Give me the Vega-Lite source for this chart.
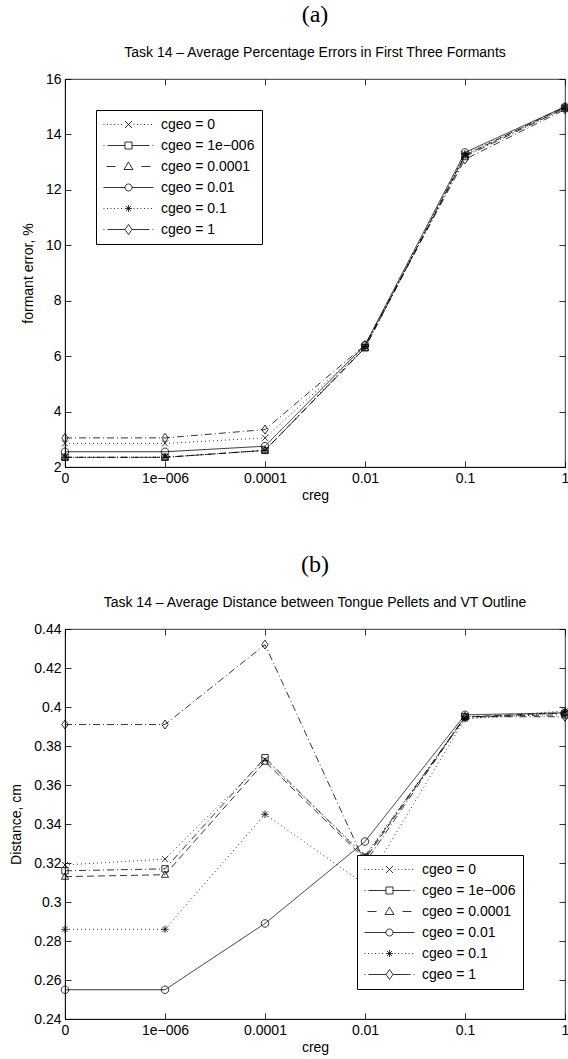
{
  "$schema": "https://vega.github.io/schema/vega-lite/v6.json",
  "background": "white",
  "padding": {"left": 9, "top": 2, "right": 0, "bottom": 2},
  "spacing": 49,
  "datasets": {
    "a": [
      {"creg": "0", "cgeo": "0", "value": 2.85}, {"creg": "1e−006", "cgeo": "0", "value": 2.85}, {"creg": "0.0001", "cgeo": "0", "value": 3.05}, {"creg": "0.01", "cgeo": "0", "value": 6.35}, {"creg": "0.1", "cgeo": "0", "value": 13.25}, {"creg": "1", "cgeo": "0", "value": 14.95},
      {"creg": "0", "cgeo": "1e−006", "value": 2.35}, {"creg": "1e−006", "cgeo": "1e−006", "value": 2.35}, {"creg": "0.0001", "cgeo": "1e−006", "value": 2.6}, {"creg": "0.01", "cgeo": "1e−006", "value": 6.3}, {"creg": "0.1", "cgeo": "1e−006", "value": 13.2}, {"creg": "1", "cgeo": "1e−006", "value": 14.95},
      {"creg": "0", "cgeo": "0.0001", "value": 2.35}, {"creg": "1e−006", "cgeo": "0.0001", "value": 2.35}, {"creg": "0.0001", "cgeo": "0.0001", "value": 2.6}, {"creg": "0.01", "cgeo": "0.0001", "value": 6.3}, {"creg": "0.1", "cgeo": "0.0001", "value": 13.25}, {"creg": "1", "cgeo": "0.0001", "value": 15.0},
      {"creg": "0", "cgeo": "0.01", "value": 2.55}, {"creg": "1e−006", "cgeo": "0.01", "value": 2.55}, {"creg": "0.0001", "cgeo": "0.01", "value": 2.75}, {"creg": "0.01", "cgeo": "0.01", "value": 6.4}, {"creg": "0.1", "cgeo": "0.01", "value": 13.35}, {"creg": "1", "cgeo": "0.01", "value": 15.0},
      {"creg": "0", "cgeo": "0.1", "value": 2.35}, {"creg": "1e−006", "cgeo": "0.1", "value": 2.35}, {"creg": "0.0001", "cgeo": "0.1", "value": 2.6}, {"creg": "0.01", "cgeo": "0.1", "value": 6.35}, {"creg": "0.1", "cgeo": "0.1", "value": 13.3}, {"creg": "1", "cgeo": "0.1", "value": 14.95},
      {"creg": "0", "cgeo": "1", "value": 3.05}, {"creg": "1e−006", "cgeo": "1", "value": 3.05}, {"creg": "0.0001", "cgeo": "1", "value": 3.35}, {"creg": "0.01", "cgeo": "1", "value": 6.4}, {"creg": "0.1", "cgeo": "1", "value": 13.1}, {"creg": "1", "cgeo": "1", "value": 14.9}
    ],
    "b": [
      {"creg": "0", "cgeo": "0", "value": 0.319}, {"creg": "1e−006", "cgeo": "0", "value": 0.322}, {"creg": "0.0001", "cgeo": "0", "value": 0.373}, {"creg": "0.01", "cgeo": "0", "value": 0.324}, {"creg": "0.1", "cgeo": "0", "value": 0.394}, {"creg": "1", "cgeo": "0", "value": 0.397},
      {"creg": "0", "cgeo": "1e−006", "value": 0.316}, {"creg": "1e−006", "cgeo": "1e−006", "value": 0.317}, {"creg": "0.0001", "cgeo": "1e−006", "value": 0.374}, {"creg": "0.01", "cgeo": "1e−006", "value": 0.323}, {"creg": "0.1", "cgeo": "1e−006", "value": 0.395}, {"creg": "1", "cgeo": "1e−006", "value": 0.396},
      {"creg": "0", "cgeo": "0.0001", "value": 0.313}, {"creg": "1e−006", "cgeo": "0.0001", "value": 0.314}, {"creg": "0.0001", "cgeo": "0.0001", "value": 0.372}, {"creg": "0.01", "cgeo": "0.0001", "value": 0.322}, {"creg": "0.1", "cgeo": "0.0001", "value": 0.395}, {"creg": "1", "cgeo": "0.0001", "value": 0.397},
      {"creg": "0", "cgeo": "0.01", "value": 0.255}, {"creg": "1e−006", "cgeo": "0.01", "value": 0.255}, {"creg": "0.0001", "cgeo": "0.01", "value": 0.289}, {"creg": "0.01", "cgeo": "0.01", "value": 0.331}, {"creg": "0.1", "cgeo": "0.01", "value": 0.396}, {"creg": "1", "cgeo": "0.01", "value": 0.397},
      {"creg": "0", "cgeo": "0.1", "value": 0.286}, {"creg": "1e−006", "cgeo": "0.1", "value": 0.286}, {"creg": "0.0001", "cgeo": "0.1", "value": 0.345}, {"creg": "0.01", "cgeo": "0.1", "value": 0.309}, {"creg": "0.1", "cgeo": "0.1", "value": 0.394}, {"creg": "1", "cgeo": "0.1", "value": 0.398},
      {"creg": "0", "cgeo": "1", "value": 0.391}, {"creg": "1e−006", "cgeo": "1", "value": 0.391}, {"creg": "0.0001", "cgeo": "1", "value": 0.432}, {"creg": "0.01", "cgeo": "1", "value": 0.32}, {"creg": "0.1", "cgeo": "1", "value": 0.395}, {"creg": "1", "cgeo": "1", "value": 0.395}
    ]
  },
  "config": {
    "font": "Liberation Sans",
    "view": {"stroke": "black", "strokeWidth": 0.8},
    "axis": {
      "labelFont": "Liberation Sans", "labelFontSize": 14, "labelColor": "black",
      "titleFont": "Liberation Sans", "titleFontSize": 14, "titleFontWeight": "normal", "titleColor": "black",
      "domainColor": "black", "domainWidth": 0.8, "tickColor": "black", "tickWidth": 0.8,
      "tickSize": -6, "labelPadding": 10, "grid": false, "labelFlush": false
    },
    "axisX": {"labelAngle": 0, "titlePadding": 3},
    "axisY": {"titlePadding": 10},
    "title": {
      "font": "Liberation Serif", "fontSize": 24, "fontWeight": "normal", "color": "black",
      "subtitleFont": "Liberation Sans", "subtitleFontSize": 14, "subtitleColor": "black",
      "subtitlePadding": 19, "offset": 12, "anchor": "middle"
    },
    "legend": {
      "title": null, "orient": "none", "strokeColor": "black", "fillColor": "white", "padding": 7,
      "symbolSize": 196, "symbolStrokeColor": "black", "symbolStrokeWidth": 0.8, "symbolFillColor": "transparent",
      "symbolOpacity": 1, "labelFont": "Liberation Sans", "labelFontSize": 14, "labelColor": "black",
      "labelOffset": 43, "rowPadding": 6
    }
  },
  "resolve": {"scale": {"shape": "independent", "strokeDash": "independent"}, "legend": {"shape": "independent"}},
  "vconcat": [
    {
      "width": 500, "height": 388,
      "title": {"text": "(a)", "subtitle": "Task 14 – Average Percentage Errors in First Three Formants"},
      "data": {"name": "a"},
      "encoding": {
        "x": {"field": "creg", "type": "ordinal", "scale": {"type": "point", "padding": 0, "domain": ["0", "1e−006", "0.0001", "0.01", "0.1", "1"]}, "axis": {"title": "creg"}},
        "y": {"field": "value", "type": "quantitative", "scale": {"domain": [2, 16], "nice": false, "zero": false}, "axis": {"title": "formant error, %", "values": [2, 4, 6, 8, 10, 12, 14, 16], "format": "d"}}
      },
      "layer": [
        {
          "mark": {"type": "line", "color": "black", "strokeWidth": 0.8, "strokeCap": "butt"},
          "encoding": {"strokeDash": {"field": "cgeo", "type": "nominal", "legend": null, "scale": {"domain": ["0", "1e−006", "0.0001", "0.01", "0.1", "1"], "range": [[1, 3], [7, 3, 1, 3], [7, 4], [1, 0], [1, 3], [7, 3, 1, 3]]}}}
        },
        {
          "mark": {"type": "point", "filled": false, "color": "black", "strokeWidth": 0.8, "size": 56, "opacity": 1},
          "encoding": {
            "x": {"field": "creg", "type": "ordinal", "axis": {"orient": "top", "labels": false, "title": null, "domain": false}},
            "y": {"field": "value", "type": "quantitative", "axis": {"orient": "right", "labels": false, "title": null, "domain": false, "values": [2, 4, 6, 8, 10, 12, 14, 16]}},
            "shape": {"field": "cgeo", "type": "nominal", "legend": null, "scale": {"domain": ["0", "1e−006", "0.0001", "0.01", "0.1", "1"], "range": [
            "M-0.8,-0.8L0.8,0.8M-0.8,0.8L0.8,-0.8",
            "M-0.85,-0.85H0.85V0.85H-0.85Z",
            "M0,-1L0.95,0.7L-0.95,0.7Z",
            "M-1,0A1,1,0,1,0,1,0A1,1,0,1,0,-1,0",
            "M-1,0H1M0,-1V1M-0.7,-0.7L0.7,0.7M-0.7,0.7L0.7,-0.7",
            "M0,-1.2L0.85,0L0,1.2L-0.85,0Z"]}}}
        },
        {
          "transform": [{"filter": "datum.value < -1000"}],
          "mark": {"type": "point", "filled": false, "color": "black", "strokeWidth": 0.8},
          "encoding": {
            "x": {"field": "creg", "type": "ordinal", "axis": null},
            "y": {"field": "value", "type": "quantitative", "axis": null},
            "shape": {"field": "cgeo", "type": "nominal",
            "legend": {"legendX": 31, "legendY": 31, "labelExpr": "'cgeo = ' + datum.label"},
            "scale": {"domain": ["0", "1e−006", "0.0001", "0.01", "0.1", "1"], "range": [
            "M-1,0h0.143M-0.5,0h0.143M0,0h0.143M0.5,0h0.143M1,0h0.143M1.5,0h0.143M3.286,0h0.143M3.786,0h0.143M4.286,0h0.143M4.786,0h0.143M5.286,0h0.143M5.786,0h0.143M2.071,-0.5L3.071,0.5M2.071,0.5L3.071,-0.5",
            "M-1,0H-0.857M-0.429,0H2.071M3.071,0H5.571M6,0H6.143M2.071,-0.5H3.071V0.5H2.071Z",
            "M-0.571,0H0.714M4.429,0H5.714M2.571,-0.643L3.214,0.429L1.929,0.429Z",
            "M-1,0H2.071M3.071,0H6.143M2.071,0A0.5,0.5,0,1,0,3.071,0A0.5,0.5,0,1,0,2.071,0",
            "M-1,0h0.143M-0.5,0h0.143M0,0h0.143M0.5,0h0.143M1,0h0.143M1.5,0h0.143M3.286,0h0.143M3.786,0h0.143M4.286,0h0.143M4.786,0h0.143M5.286,0h0.143M5.786,0h0.143M2.071,0H3.071M2.571,-0.5V0.5M2.218,-0.354L2.925,0.354M2.218,0.354L2.925,-0.354",
            "M-1,0H-0.857M-0.429,0H2.071M3.071,0H5.571M6,0H6.143M2.571,-0.714L3.071,0L2.571,0.714L2.071,0Z"]}}}
        }
      ],
      "resolve": {"scale": {"shape": "independent"}, "legend": {"shape": "independent"}, "axis": {"x": "independent", "y": "independent"}}
    },
    {
      "width": 500, "height": 390,
      "title": {"text": "(b)", "subtitle": "Task 14 – Average Distance between Tongue Pellets and VT Outline"},
      "data": {"name": "b"},
      "encoding": {
        "x": {"field": "creg", "type": "ordinal", "scale": {"type": "point", "padding": 0, "domain": ["0", "1e−006", "0.0001", "0.01", "0.1", "1"]}, "axis": {"title": "creg"}},
        "y": {"field": "value", "type": "quantitative", "scale": {"domain": [0.24, 0.44], "nice": false, "zero": false}, "axis": {"title": "Distance, cm", "values": [0.24, 0.26, 0.28, 0.3, 0.32, 0.34, 0.36, 0.38, 0.4, 0.42, 0.44], "format": ".2~f"}}
      },
      "layer": [
        {
          "mark": {"type": "line", "color": "black", "strokeWidth": 0.8, "strokeCap": "butt"},
          "encoding": {"strokeDash": {"field": "cgeo", "type": "nominal", "legend": null, "scale": {"domain": ["0", "1e−006", "0.0001", "0.01", "0.1", "1"], "range": [[1, 3], [7, 3, 1, 3], [7, 4], [1, 0], [1, 3], [7, 3, 1, 3]]}}}
        },
        {
          "mark": {"type": "point", "filled": false, "color": "black", "strokeWidth": 0.8, "size": 56, "opacity": 1},
          "encoding": {
            "x": {"field": "creg", "type": "ordinal", "axis": {"orient": "top", "labels": false, "title": null, "domain": false}},
            "y": {"field": "value", "type": "quantitative", "axis": {"orient": "right", "labels": false, "title": null, "domain": false, "values": [0.24, 0.26, 0.28, 0.3, 0.32, 0.34, 0.36, 0.38, 0.4, 0.42, 0.44]}},
            "shape": {"field": "cgeo", "type": "nominal", "legend": null, "scale": {"domain": ["0", "1e−006", "0.0001", "0.01", "0.1", "1"], "range": [
            "M-0.8,-0.8L0.8,0.8M-0.8,0.8L0.8,-0.8",
            "M-0.85,-0.85H0.85V0.85H-0.85Z",
            "M0,-1L0.95,0.7L-0.95,0.7Z",
            "M-1,0A1,1,0,1,0,1,0A1,1,0,1,0,-1,0",
            "M-1,0H1M0,-1V1M-0.7,-0.7L0.7,0.7M-0.7,0.7L0.7,-0.7",
            "M0,-1.2L0.85,0L0,1.2L-0.85,0Z"]}}}
        },
        {
          "transform": [{"filter": "datum.value < -1000"}],
          "mark": {"type": "point", "filled": false, "color": "black", "strokeWidth": 0.8},
          "encoding": {
            "x": {"field": "creg", "type": "ordinal", "axis": null},
            "y": {"field": "value", "type": "quantitative", "axis": null},
            "shape": {"field": "cgeo", "type": "nominal",
            "legend": {"legendX": 292, "legendY": 226, "labelExpr": "'cgeo = ' + datum.label"},
            "scale": {"domain": ["0", "1e−006", "0.0001", "0.01", "0.1", "1"], "range": [
            "M-1,0h0.143M-0.5,0h0.143M0,0h0.143M0.5,0h0.143M1,0h0.143M1.5,0h0.143M3.286,0h0.143M3.786,0h0.143M4.286,0h0.143M4.786,0h0.143M5.286,0h0.143M5.786,0h0.143M2.071,-0.5L3.071,0.5M2.071,0.5L3.071,-0.5",
            "M-1,0H-0.857M-0.429,0H2.071M3.071,0H5.571M6,0H6.143M2.071,-0.5H3.071V0.5H2.071Z",
            "M-0.571,0H0.714M4.429,0H5.714M2.571,-0.643L3.214,0.429L1.929,0.429Z",
            "M-1,0H2.071M3.071,0H6.143M2.071,0A0.5,0.5,0,1,0,3.071,0A0.5,0.5,0,1,0,2.071,0",
            "M-1,0h0.143M-0.5,0h0.143M0,0h0.143M0.5,0h0.143M1,0h0.143M1.5,0h0.143M3.286,0h0.143M3.786,0h0.143M4.286,0h0.143M4.786,0h0.143M5.286,0h0.143M5.786,0h0.143M2.071,0H3.071M2.571,-0.5V0.5M2.218,-0.354L2.925,0.354M2.218,0.354L2.925,-0.354",
            "M-1,0H-0.857M-0.429,0H2.071M3.071,0H5.571M6,0H6.143M2.571,-0.714L3.071,0L2.571,0.714L2.071,0Z"]}}}
        }
      ],
      "resolve": {"scale": {"shape": "independent"}, "legend": {"shape": "independent"}, "axis": {"x": "independent", "y": "independent"}}
    }
  ]
}
